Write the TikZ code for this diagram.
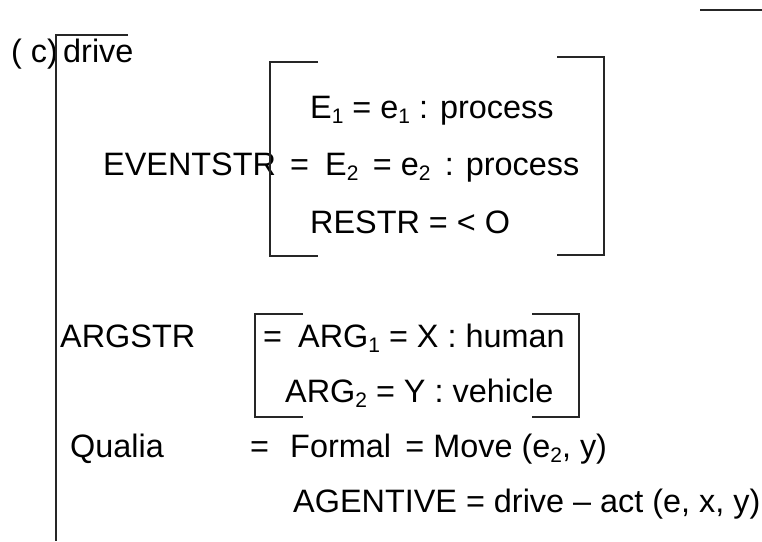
\documentclass[tikz,border=0pt]{standalone}
\usepackage{fontspec}
\setmainfont{Liberation Sans}
% small lowered index, as in E_1, ARG_2
\newcommand\lowidx[1]{\raisebox{-0.3ex}{\fontsize{21}{21}\selectfont #1}}
\tikzset{
  txt/.style={anchor=base west, inner sep=0pt, font=\fontsize{32.4}{38}\selectfont},
  rule/.style={line width=1.4pt, black!85}
}
\begin{document}
\begin{tikzpicture}[x=1pt,y=-1pt]
\useasboundingbox (0,0) rectangle (762,541);

% feature structure text
\node[txt] (tag)    at (11,62)   {( c)};
\node[txt] (head)   at (63,62)   {drive};
\node[txt] (evs)    at (103,175) {EVENTSTR};
\node[txt] (e1)     at (310,118) {E\lowidx{1} = e\lowidx{1} : process};
\node[txt] (eq1)    at (290,175) {=};
\node[txt] (e2)     at (325,175) {E\lowidx{2}\, = e\lowidx{2}\, : process};
\node[txt] (restr)  at (310,233) {RESTR = < O};
\node[txt] (args)   at (60,347)  {ARGSTR};
\node[txt] (eq2)    at (263,347) {=};
\node[txt] (arg1)   at (298,347) {ARG\lowidx{1} = X : human};
\node[txt] (arg2)   at (285,402) {ARG\lowidx{2} = Y : vehicle};
\node[txt] (qual)   at (70,457)  {Qualia};
\node[txt] (eq3)    at (250,457) {=};
\node[txt] (formal) at (290,457) {Formal\, = Move (e\lowidx{2}, y)};
\node[txt] (agent)  at (293,512) {AGENTIVE = drive – act (e, x, y)};

% outer bracket and stray rule
\draw[rule] (128,35) -- (56,35) -- (56,541);
\draw[rule] (700,10) -- (762,10);

% EVENTSTR brackets
\draw[rule] (318,62) -- (270,62) -- (270,256) -- (318,256);
\draw[rule] (557,57) -- (604,57) -- (604,255) -- (557,255);

% ARGSTR brackets
\draw[rule] (303,314) -- (255,314) -- (255,417) -- (303,417);
\draw[rule] (532,314) -- (579,314) -- (579,417) -- (532,417);
\end{tikzpicture}
\end{document}
